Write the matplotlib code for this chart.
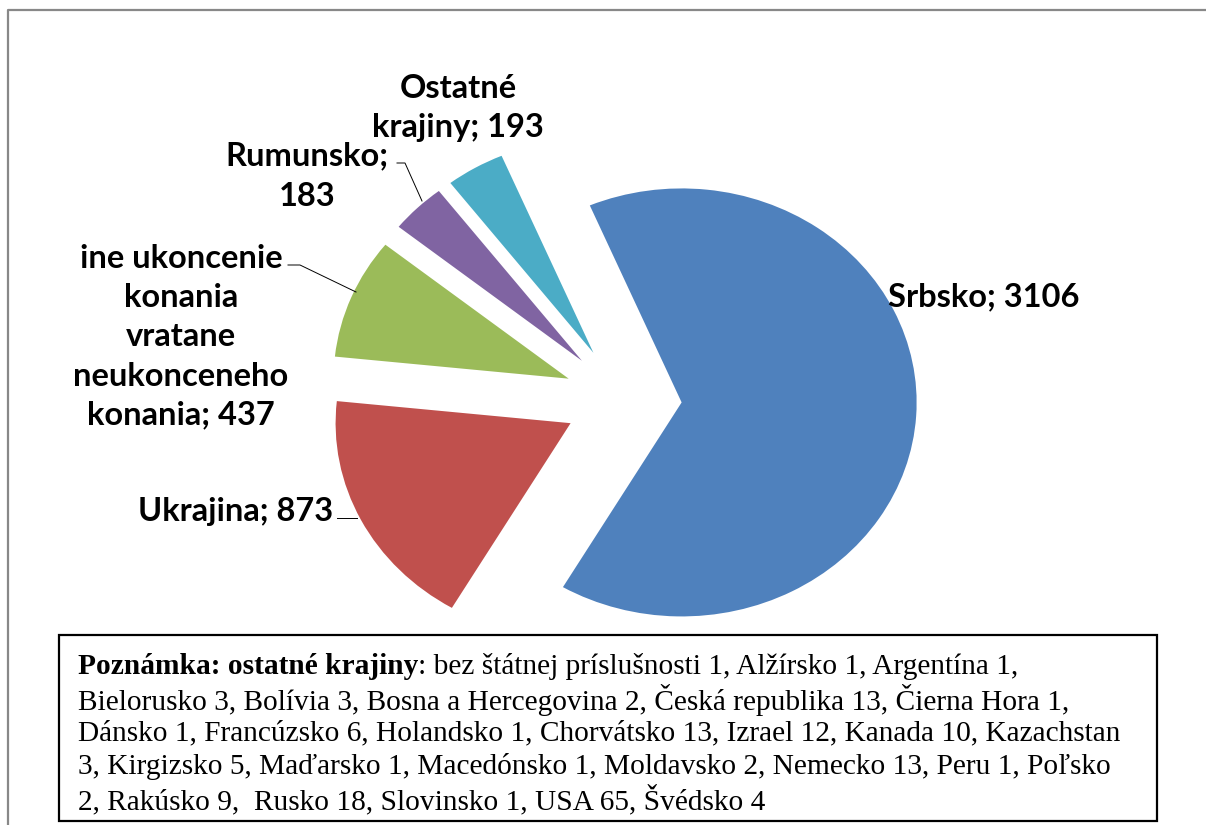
import matplotlib
matplotlib.use("Agg")
import matplotlib.pyplot as plt
from matplotlib.patches import Rectangle
from matplotlib.lines import Line2D

# ---- data ----
categories = ["Srbsko", "Ukrajina", "ine ukoncenie konania vratane neukonceneho konania",
              "Rumunsko", "Ostatné krajiny"]
values = [3106, 873, 437, 183, 193]
colors = ["#4F81BD", "#C0504D", "#9BBB59", "#8064A2", "#4BACC6"]
label_texts = ["Srbsko; 3106", "Ukrajina; 873",
               "ine ukoncenie\nkonania\nvratane\nneukonceneho\nkonania; 437",
               "Rumunsko;\n183", "Ostatné\nkrajiny; 193"]
note_bold = "Poznámka: ostatné krajiny"
note_lines = [
    ": bez štátnej príslušnosti 1, Alžírsko 1, Argentína 1,",
    "Bielorusko 3, Bolívia 3, Bosna a Hercegovina 2, Česká republika 13, Čierna Hora 1,",
    "Dánsko 1, Francúzsko 6, Holandsko 1, Chorvátsko 13, Izrael 12, Kanada 10, Kazachstan",
    "3, Kirgizsko 5, Maďarsko 1, Macedónsko 1, Moldavsko 2, Nemecko 13, Peru 1, Poľsko",
    "2, Rakúsko 9,  Rusko 18, Slovinsko 1, USA 65, Švédsko 4",
]

W, H = 1206, 825
fig = plt.figure(figsize=(W / 100, H / 100), dpi=100)
fig.patch.set_facecolor("white")

# ---- pie ----
cx, cy, rx, ry = 623, 399, 235, 214
axp = fig.add_axes([0, 0, 1, 1])
axp.pie(values, colors=colors, startangle=113, counterclock=False,
        explode=[0.25] * len(values), radius=1, center=(0, 0),
        wedgeprops=dict(linewidth=0))
axp.set_aspect("auto")
axp.set_xlim(-cx / rx, (W - cx) / rx)
axp.set_ylim((cy - H) / ry, cy / ry)
axp.axis("off")

# ---- overlay in pixel coordinates ----
ov = fig.add_axes([0, 0, 1, 1], facecolor="none")
ov.set_xlim(0, W)
ov.set_ylim(H, 0)
ov.axis("off")

# outer border (left + top)
ov.add_line(Line2D([8, 8, W + 5], [H + 5, 10, 10], color="#888888", lw=1.6))

lab_font = dict(family="Lato", weight="bold", fontsize=23.5, color="black")
ls = 1.42
ov.text(888, 297, label_texts[0], ha="left", va="center", **lab_font)
ov.text(236, 511, label_texts[1], ha="center", va="center", **lab_font)
ov.text(181, 337, label_texts[2], ha="center", va="center", linespacing=ls, **lab_font)
ov.text(307, 176, label_texts[3], ha="center", va="center", linespacing=ls * 1.03, **lab_font)
ov.text(458, 108, label_texts[4], ha="center", va="center", linespacing=ls, **lab_font)

# leader lines
ov.add_line(Line2D([397, 405, 422], [163, 163, 201], color="black", lw=0.7))
ov.add_line(Line2D([288, 300, 356], [265, 265, 292], color="black", lw=0.7))
ov.add_line(Line2D([337, 357], [518, 518], color="black", lw=0.7))

# note box
ov.add_patch(Rectangle((59, 635), 1098, 186, facecolor="white", edgecolor="black", lw=1.6))

note_font = dict(family="Liberation Serif", color="black")
renderer = fig.canvas.get_renderer()
# fit font size so the widest line spans the measured width
probe = ov.text(0, 0, note_lines[2], fontsize=16, **note_font)
wpx = probe.get_window_extent(renderer).width
probe.remove()
fs = 16 * 1043 / wpx

y0, dy = 666, 33.5
tb = ov.text(78, y0, note_bold, fontsize=fs, weight="bold", va="center", ha="left", **note_font)
bw = tb.get_window_extent(renderer).width
ov.text(78 + bw, y0, note_lines[0], fontsize=fs, va="center", ha="left", **note_font)
for i, line in enumerate(note_lines[1:], start=1):
    ov.text(78, y0 + i * dy, line, fontsize=fs, va="center", ha="left", **note_font)

fig.savefig("out.png", dpi=100, facecolor="white")
